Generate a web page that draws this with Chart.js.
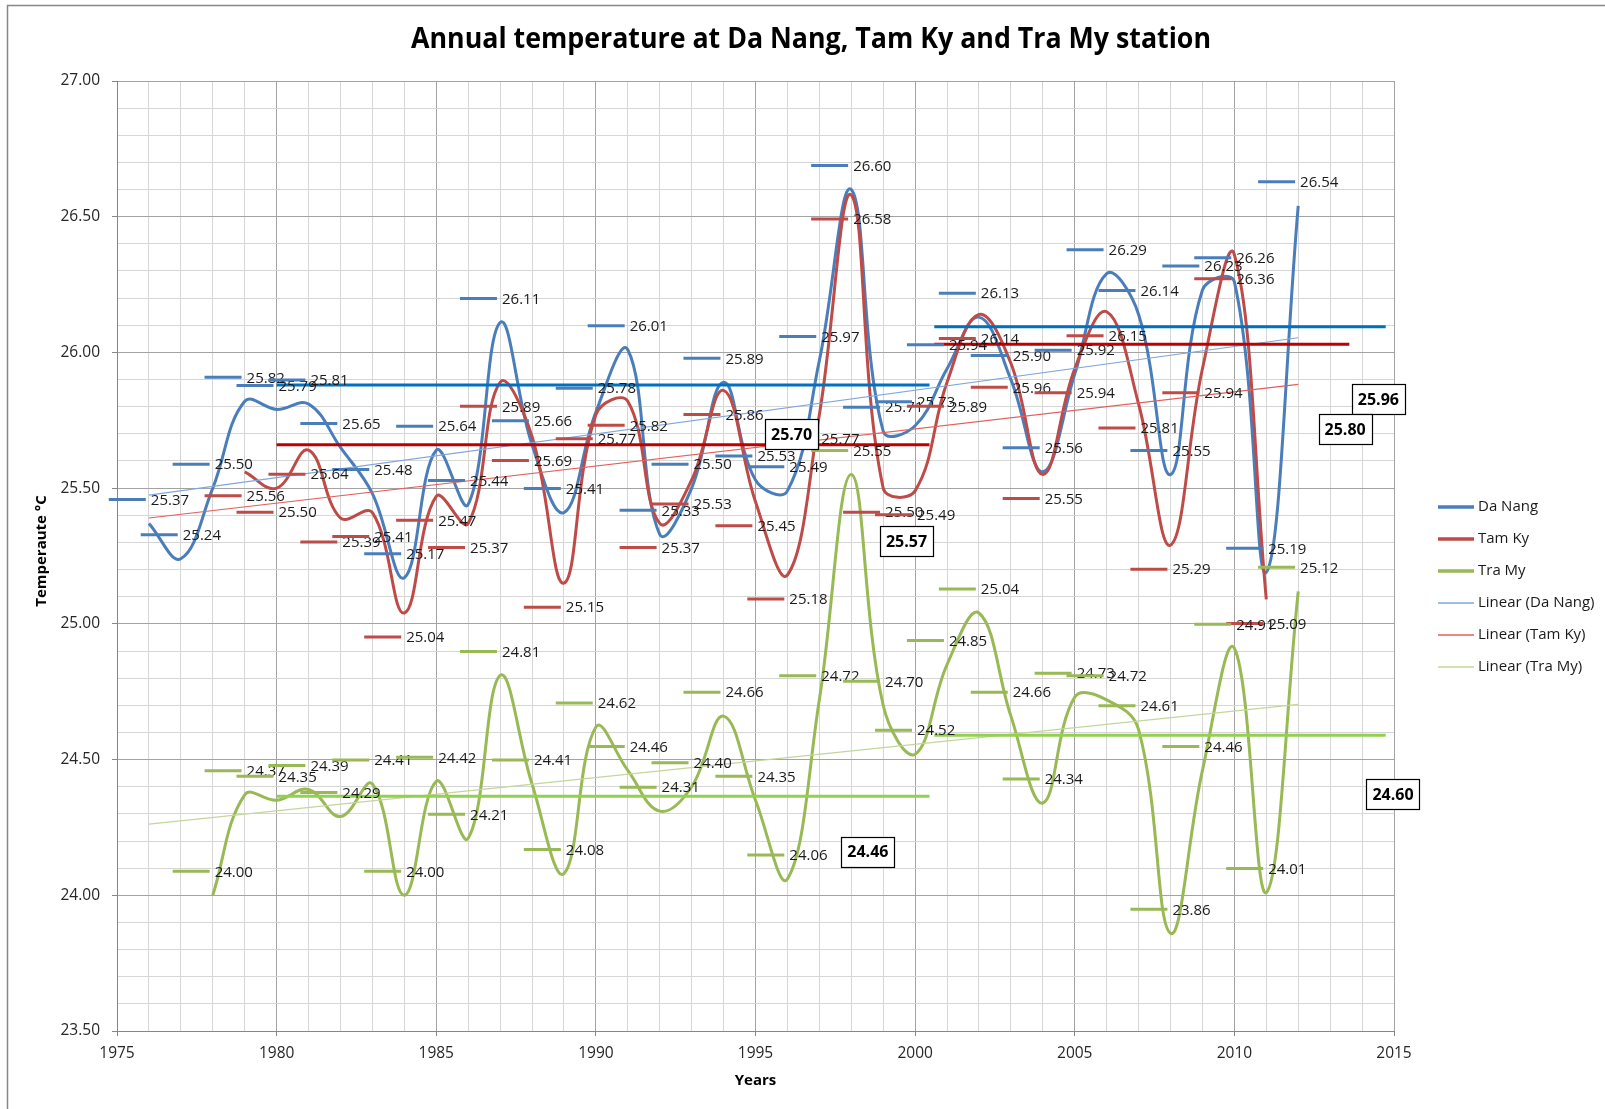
<!DOCTYPE html>
<html><head><meta charset="utf-8">
<script src="https://cdn.jsdelivr.net/npm/chart.js@4.4.1/dist/chart.umd.min.js"></script>
<style>html,body{margin:0;padding:0;background:#fff}#wrap{width:1605px;height:1109px;position:relative}</style>
</head><body><div id="wrap"><canvas id="c" width="1605" height="1109"></canvas></div>
<script>
// ---- DATA ----
const chartTitle = 'Annual temperature at Da Nang, Tam Ky and Tra My station';
const xAxisTitle = 'Years';
const yAxisTitle = 'Temperaute \u00B0C';
const seriesNames = ['Da Nang', 'Tam Ky', 'Tra My'];
const trendNames = ['Linear (Da Nang)', 'Linear (Tam Ky)', 'Linear (Tra My)'];

const daNangYears = [1976,1977,1978,1979,1980,1981,1982,1983,1984,1985,1986,1987,1988,1989,1990,1991,1992,1993,1994,1995,1996,1997,1998,1999,2000,2001,2002,2003,2004,2005,2006,2007,2008,2009,2010,2011,2012];
const daNangTemp = [25.37,25.24,25.50,25.82,25.79,25.81,25.65,25.48,25.17,25.64,25.44,26.11,25.66,25.41,25.78,26.01,25.33,25.50,25.89,25.53,25.49,25.97,26.60,25.71,25.73,25.94,26.13,25.90,25.56,25.92,26.29,26.14,25.55,26.23,26.26,25.19,26.54];

const tamKyYears = [1979,1980,1981,1982,1983,1984,1985,1986,1987,1988,1989,1990,1991,1992,1993,1994,1995,1996,1997,1998,1999,2000,2001,2002,2003,2004,2005,2006,2007,2008,2009,2010,2011];
const tamKyTemp = [25.56,25.50,25.64,25.39,25.41,25.04,25.47,25.37,25.89,25.69,25.15,25.77,25.82,25.37,25.53,25.86,25.45,25.18,25.77,26.58,25.50,25.49,25.89,26.14,25.96,25.55,25.94,26.15,25.81,25.29,25.94,26.36,25.09];

const traMyYears = [1978,1979,1980,1981,1982,1983,1984,1985,1986,1987,1988,1989,1990,1991,1992,1993,1994,1995,1996,1997,1998,1999,2000,2001,2002,2003,2004,2005,2006,2007,2008,2009,2010,2011,2012];
const traMyTemp = [24.00,24.37,24.35,24.39,24.29,24.41,24.00,24.42,24.21,24.81,24.41,24.08,24.62,24.46,24.31,24.40,24.66,24.35,24.06,24.72,25.55,24.70,24.52,24.85,25.04,24.66,24.34,24.73,24.72,24.61,23.86,24.46,24.91,24.01,25.12];

// linear trend lines (end points)
const trendYears = [1976, 2012];
const daNangTrend = [25.474, 26.054];
const tamKyTrend = [25.39, 25.882];
const traMyTrend = [24.262, 24.703];

// period mean segments (as drawn)
const period1Years = [1980, 2000.45];
const period2Years = [2000.6, 2014.74];
const tamKyPeriod2Years = [2000.6, 2013.6];
const daNangMeans = [25.88, 26.095];
const tamKyMeans = [25.66, 26.03];
const traMyMeans = [24.365, 24.59];

// boxed period-mean texts
const meanBoxTexts = ['25.70', '25.57', '24.46', '25.96', '25.80', '24.60'];

// axis ticks
const xMin = 1975, xMax = 2015, xMajorStep = 5;
const yMin = 23.5, yMax = 27.0, yMajorStep = 0.5;

// ---- LAYOUT / STYLE (not data) ----
const boxAnchors = [[1996.13,25.698],[1999.73,25.305],[1998.52,24.161],[2014.51,25.828],[2013.47,25.718],[2014.97,24.373]];
const colors = {dn:'#4A7EBB', tk:'#BE4B48', tm:'#98B954',
  dnMean:'#0070C0', tkMean:'#C00000', tmMean:'#92D050',
  dnTrend:'#7FA7DB', tkTrend:'#E35F5C', tmTrend:'#C3D69B'};
const FONT = '"Open Sans", "Liberation Sans", sans-serif';

function pts(xs, ys){ return xs.map((x,i)=>({x:x, y:ys[i]})); }

const xGrid = []; for (let k = xMin; k <= xMax; k++) xGrid.push(k);
const yGrid = []; for (let k = Math.round(yMin*10); k <= Math.round(yMax*10); k++) yGrid.push(k/10);
const isMajorX = v => Math.abs(v % xMajorStep) < 1e-6;
const isMajorY = v => Math.abs(v/yMajorStep - Math.round(v/yMajorStep)) < 1e-6;

const datasets = [
  {label:seriesNames[0], data:pts(daNangYears, daNangTemp), borderColor:colors.dn, borderWidth:3, tension:0.4, pointRadius:0, valueLabels:'above', legend:{i:0,w:3.5}, order:6},
  {label:seriesNames[1], data:pts(tamKyYears, tamKyTemp), borderColor:colors.tk, borderWidth:3, tension:0.4, pointRadius:0, valueLabels:'below', legend:{i:1,w:3.5}, order:5},
  {label:seriesNames[2], data:pts(traMyYears, traMyTemp), borderColor:colors.tm, borderWidth:3, tension:0.4, pointRadius:0, valueLabels:'above', legend:{i:2,w:3.5}, order:4},
  {label:trendNames[0], data:pts(trendYears, daNangTrend), borderColor:colors.dnTrend, borderWidth:1.2, tension:0, pointRadius:0, legend:{i:3,w:1.5}, order:3},
  {label:trendNames[1], data:pts(trendYears, tamKyTrend), borderColor:colors.tkTrend, borderWidth:1.2, tension:0, pointRadius:0, legend:{i:4,w:1.5}, order:3},
  {label:trendNames[2], data:pts(trendYears, traMyTrend), borderColor:colors.tmTrend, borderWidth:1.2, tension:0, pointRadius:0, legend:{i:5,w:1.5}, order:3},
  {label:'m1', data:pts(period1Years, [daNangMeans[0], daNangMeans[0]]), borderColor:colors.dnMean, borderWidth:3, pointRadius:0, order:1},
  {label:'m2', data:pts(period2Years, [daNangMeans[1], daNangMeans[1]]), borderColor:colors.dnMean, borderWidth:3, pointRadius:0, order:1},
  {label:'m3', data:pts(period1Years, [tamKyMeans[0], tamKyMeans[0]]), borderColor:colors.tkMean, borderWidth:3, pointRadius:0, order:1},
  {label:'m4', data:pts(tamKyPeriod2Years, [tamKyMeans[1], tamKyMeans[1]]), borderColor:colors.tkMean, borderWidth:3, pointRadius:0, order:1},
  {label:'m5', data:pts(period1Years, [traMyMeans[0], traMyMeans[0]]), borderColor:colors.tmMean, borderWidth:3, pointRadius:0, order:1},
  {label:'m6', data:pts(period2Years, [traMyMeans[1], traMyMeans[1]]), borderColor:colors.tmMean, borderWidth:3, pointRadius:0, order:1}
];

const decorPlugin = {
  id:'decor',
  beforeDraw(chart){
    const ctx = chart.ctx;
    ctx.save();
    ctx.fillStyle = '#fff'; ctx.fillRect(0,0,chart.width,chart.height);
    ctx.strokeStyle = '#878787'; ctx.lineWidth = 1.5;
    ctx.beginPath(); ctx.moveTo(7.5, chart.height); ctx.lineTo(7.5, 5.5); ctx.lineTo(chart.width, 5.5); ctx.stroke();
    ctx.restore();
  },
  afterDraw(chart){
    const ctx = chart.ctx, ca = chart.chartArea;
    const xs = chart.scales.x, ys = chart.scales.y;
    ctx.save();
    // title
    ctx.fillStyle = '#000';
    ctx.font = 'bold 28px ' + FONT;
    ctx.textAlign = 'center'; ctx.textBaseline = 'middle';
    const tw = ctx.measureText(chartTitle).width, target = 800;
    ctx.save(); ctx.translate(811, 40); ctx.scale(Math.min(1, target/tw), 1); ctx.fillText(chartTitle, 0, 0); ctx.restore();
    // axis titles
    ctx.font = 'bold 15px ' + FONT;
    ctx.fillStyle = '#000';
    ctx.fillText(xAxisTitle, (ca.left+ca.right)/2, 1081);
    ctx.save(); ctx.translate(42, 551); ctx.rotate(-Math.PI/2); ctx.fillText(yAxisTitle, 0, 0); ctx.restore();
    // boxed mean labels
    ctx.font = 'bold 16px ' + FONT;
    meanBoxTexts.forEach((t,i)=>{
      const cx = xs.getPixelForValue(boxAnchors[i][0]);
      const cy = ys.getPixelForValue(boxAnchors[i][1]);
      const w = ctx.measureText(t).width + 12, h = 30;
      ctx.fillStyle = '#fff'; ctx.fillRect(cx-w/2, cy-h/2, w, h);
      ctx.strokeStyle = '#000'; ctx.lineWidth = 1.2; ctx.strokeRect(Math.round(cx-w/2)+0.5, Math.round(cy-h/2)+0.5, Math.round(w), h);
      ctx.fillStyle = '#000'; ctx.fillText(t, cx, cy+1);
    });
    // legend
    ctx.font = '15px ' + FONT;
    ctx.textAlign = 'left';
    chart.data.datasets.forEach(ds=>{
      if (!ds.legend) return;
      const y = 507 + ds.legend.i*32;
      ctx.strokeStyle = ds.borderColor; ctx.lineWidth = ds.legend.w;
      ctx.beginPath(); ctx.moveTo(1438, y); ctx.lineTo(1474, y); ctx.stroke();
      ctx.fillStyle = '#1a1a1a'; ctx.fillText(ds.label, 1478, y);
    });
    ctx.restore();
  },
  afterDatasetsDraw(chart){
    const ctx = chart.ctx;
    ctx.save();
    ctx.font = '15px ' + FONT;
    ctx.textBaseline = 'middle'; ctx.textAlign = 'left';
    chart.data.datasets.forEach((ds,i)=>{
      if (!ds.valueLabels) return;
      const meta = chart.getDatasetMeta(i);
      meta.data.forEach((pt,j)=>{
        const txt = ds.data[j].y.toFixed(2);
        const tw = ctx.measureText(txt).width;
        const keyW = 37, gap = 5;
        const x0 = pt.x - (keyW+gap+tw)/2;
        const y = pt.y + (ds.valueLabels === 'above' ? -24 : 24);
        ctx.strokeStyle = ds.borderColor; ctx.lineWidth = 3; ctx.lineCap = 'butt';
        ctx.beginPath(); ctx.moveTo(x0, y); ctx.lineTo(x0+keyW, y); ctx.stroke();
        ctx.fillStyle = '#1a1a1a'; ctx.fillText(txt, x0+keyW+gap, y+1);
      });
    });
    ctx.restore();
  }
};

new Chart(document.getElementById('c'), {
  type:'line',
  data:{datasets:datasets},
  options:{
    responsive:false, animation:false, devicePixelRatio:1,
    layout:{padding:{top:81, right:211, left:0, bottom:0}},
    plugins:{legend:{display:false}, tooltip:{enabled:false}, title:{display:false}},
    scales:{
      x:{type:'linear', min:xMin, max:xMax,
        afterBuildTicks:s=>{ s.ticks = xGrid.map(v=>({value:v})); },
        afterFit:s=>{ s.height = 78; },
        ticks:{autoSkip:false, maxRotation:0, padding:8, color:'#262626', font:{family:FONT, size:15.5},
          callback:v=> isMajorX(v) ? String(v) : ''},
        grid:{color:c=> (c.tick && isMajorX(c.tick.value)) ? '#a3a3a3' : '#d6d6d6', lineWidth:1, tickLength:5,
          tickColor:c=> (c.tick && isMajorX(c.tick.value)) ? '#868686' : 'rgba(0,0,0,0)'},
        border:{color:'#868686'}
      },
      y:{type:'linear', min:yMin, max:yMax,
        afterBuildTicks:s=>{ s.ticks = yGrid.map(v=>({value:v})); },
        afterFit:s=>{ s.width = 117; },
        ticks:{autoSkip:false, padding:12, color:'#262626', font:{family:FONT, size:15.5},
          callback:v=> isMajorY(v) ? v.toFixed(2) : ''},
        grid:{color:c=> (c.tick && isMajorY(c.tick.value)) ? '#a3a3a3' : '#d6d6d6', lineWidth:1, tickLength:5,
          tickColor:c=> (c.tick && isMajorY(c.tick.value)) ? '#868686' : 'rgba(0,0,0,0)'},
        border:{color:'#868686'}
      }
    }
  },
  plugins:[decorPlugin]
});
</script></body></html>
